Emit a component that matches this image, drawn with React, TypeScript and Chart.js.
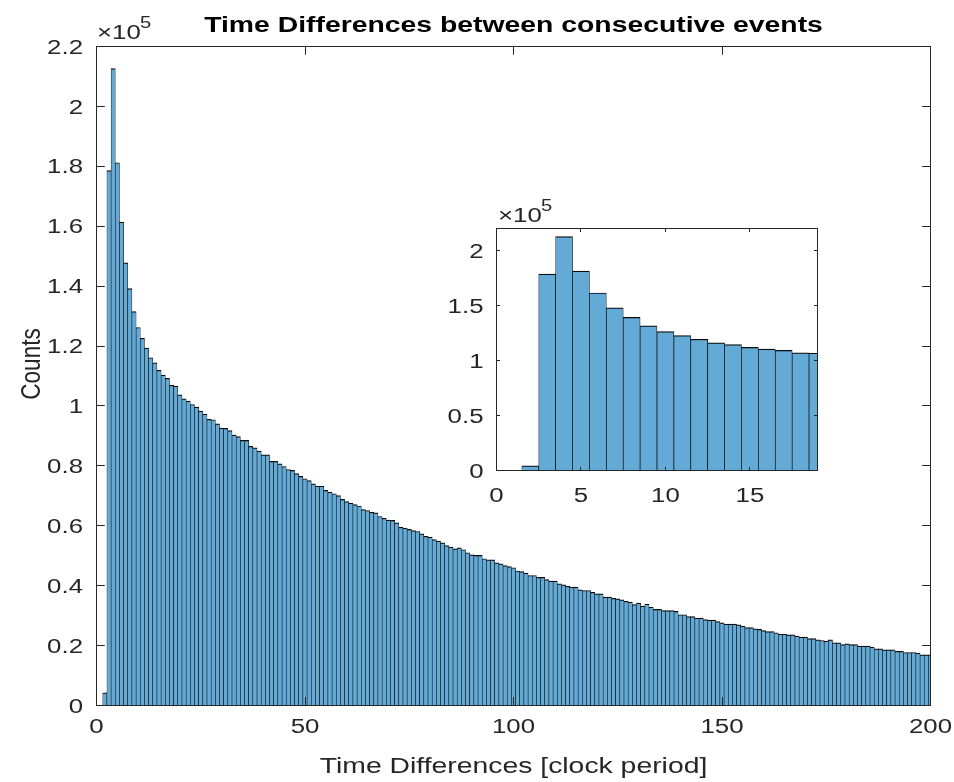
import React, { useEffect, useRef } from "react";
import { Chart, registerables } from "chart.js";

Chart.register(...registerables);

// ---- DATA ----
// histogram counts for bins centred on 1, 2, ..., 200 (clock periods)
const counts: number[] = [
  0, 4200, 178600, 212600, 181200, 161400, 147800, 139200, 131500, 126200,
  122600, 119300, 116100, 114400, 111900, 110300, 109200, 106900, 106600, 103700,
  102400, 101600, 100500, 99600, 98300, 97300, 95500, 95400, 94000, 92600,
  92500, 91800, 90300, 89800, 88500, 88500, 86500, 86000, 84900, 83700,
  83700, 81500, 81500, 80700, 79800, 78800, 78500, 77400, 76500, 75700,
  75100, 74000, 73200, 73200, 71800, 71200, 70700, 70100, 68800, 68100,
  67600, 67100, 66600, 65400, 65100, 64500, 64300, 63100, 62500, 61900,
  61800, 61000, 59500, 59200, 58800, 58400, 58100, 57300, 56500, 56200,
  55400, 54900, 54300, 53400, 52900, 52300, 52600, 52000, 51000, 50300,
  50100, 50100, 49000, 48600, 48600, 47600, 47300, 46700, 46400, 46000,
  44900, 44700, 44200, 43400, 43400, 42800, 42800, 42000, 41500, 41500,
  40600, 40300, 39800, 39500, 39500, 38600, 38400, 38400, 37800, 37300,
  37300, 36200, 36200, 35800, 35600, 35300, 34800, 34500, 33700, 34200,
  33200, 33800, 32800, 32100, 32100, 31700, 31700, 31700, 31400, 30300,
  30300, 29700, 29700, 29200, 29200, 28700, 28500, 28500, 28000, 27600,
  27200, 27200, 27200, 26900, 26500, 26000, 26000, 25600, 25400, 25000,
  24700, 24700, 24300, 23800, 23800, 23600, 23600, 23200, 22800, 22800,
  22300, 22300, 21900, 21700, 21500, 21900, 20900, 20900, 20300, 20600,
  20300, 20300, 19800, 19800, 19800, 19500, 18900, 18900, 18600, 18600,
  18600, 18100, 18100, 17700, 17700, 17700, 17500, 16900, 16900, 16900,
];
const binCenters: number[] = counts.map((_, i) => i + 1);

const mainXTicks: number[] = [0, 50, 100, 150, 200];
const mainXTickLabels: string[] = ["0", "50", "100", "150", "200"];
const mainYTicks: number[] = [0, 0.2, 0.4, 0.6, 0.8, 1, 1.2, 1.4, 1.6, 1.8, 2, 2.2];
const mainYTickLabels: string[] = ["0", "0.2", "0.4", "0.6", "0.8", "1", "1.2", "1.4", "1.6", "1.8", "2", "2.2"];

const insetXTicks: number[] = [0, 5, 10, 15];
const insetXTickLabels: string[] = ["0", "5", "10", "15"];
const insetYTicks: number[] = [0, 0.5, 1, 1.5, 2];
const insetYTickLabels: string[] = ["0", "0.5", "1", "1.5", "2"];
const insetBins = 20;

const TITLE = "Time Differences between consecutive events";
const X_LABEL = "Time Differences [clock period]";
const Y_LABEL = "Counts";
const EXPONENT_BASE = "\u00d710";
const EXPONENT = "5";
const SCALE = 1e5;

// ---- STYLE ----
const FONT = '"Liberation Sans", Arial, Helvetica, sans-serif';
const SX = 1.26;
const TXT = "#262626";
const BAR = "#64AAD7";
const EDGE = "#0a0a0a";

function drawText(
  ctx: CanvasRenderingContext2D,
  text: string,
  x: number,
  y: number,
  size: number,
  opts: { bold?: boolean; align?: CanvasTextAlign; baseline?: CanvasTextBaseline; color?: string; rotate?: number } = {}
) {
  ctx.save();
  ctx.font = `${opts.bold ? "bold " : ""}${size}px ${FONT}`;
  ctx.fillStyle = opts.color || TXT;
  ctx.textAlign = opts.align || "center";
  ctx.textBaseline = opts.baseline || "alphabetic";
  ctx.translate(x, y);
  if (opts.rotate) {
    ctx.rotate(opts.rotate);
    ctx.scale(1, SX);
  } else {
    ctx.scale(SX, 1);
  }
  ctx.fillText(text, 0, 0);
  ctx.restore();
}

type AxesCfg = {
  id: string;
  xTicks: number[];
  xLabels: string[];
  yTicks: number[];
  yLabels: string[];
  tickLen: number;
  fontSize: number;
  xLabelY: number;
  yLabelGap: number;
  expX: number;
  expY: number;
  supDX: number;
  supDY: number;
  bg: boolean;
  extra?: (ctx: CanvasRenderingContext2D, chart: any) => void;
};

function makeAxesPlugin(cfg: AxesCfg) {
  return {
    id: cfg.id,
    beforeDatasetsDraw(chart: any) {
      if (!cfg.bg) return;
      const ctx = chart.ctx as CanvasRenderingContext2D;
      const a = chart.chartArea;
      ctx.save();
      ctx.fillStyle = "#ffffff";
      ctx.fillRect(a.left, a.top, a.right - a.left, a.bottom - a.top);
      ctx.restore();
    },
    afterDatasetsDraw(chart: any) {
      const ctx = chart.ctx as CanvasRenderingContext2D;
      const a = chart.chartArea;
      const xs = chart.scales.x;
      const ys = chart.scales.y;
      const snap = (v: number) => Math.round(v - 0.5) + 0.5;
      ctx.save();
      ctx.strokeStyle = TXT;
      ctx.lineWidth = 1;
      ctx.beginPath();
      cfg.xTicks.forEach((v) => {
        const px = snap(xs.getPixelForValue(v));
        ctx.moveTo(px, a.bottom);
        ctx.lineTo(px, a.bottom - cfg.tickLen);
        ctx.moveTo(px, a.top);
        ctx.lineTo(px, a.top + cfg.tickLen);
      });
      cfg.yTicks.forEach((v) => {
        const py = snap(ys.getPixelForValue(v * SCALE));
        ctx.moveTo(a.left, py);
        ctx.lineTo(a.left + cfg.tickLen, py);
        ctx.moveTo(a.right, py);
        ctx.lineTo(a.right - cfg.tickLen, py);
      });
      ctx.stroke();
      ctx.strokeRect(a.left, a.top, a.right - a.left, a.bottom - a.top);
      ctx.restore();

      cfg.xTicks.forEach((v, i) => {
        const px = xs.getPixelForValue(v);
        drawText(ctx, cfg.xLabels[i], px, cfg.xLabelY, cfg.fontSize, { baseline: "middle" });
      });
      cfg.yTicks.forEach((v, i) => {
        const py = ys.getPixelForValue(v * SCALE);
        drawText(ctx, cfg.yLabels[i], a.left - cfg.yLabelGap, py + 1.5, cfg.fontSize, {
          baseline: "middle",
          align: "right",
        });
      });
      drawText(ctx, EXPONENT_BASE, cfg.expX, cfg.expY, cfg.fontSize, { align: "left" });
      drawText(ctx, EXPONENT, cfg.expX + cfg.supDX, cfg.expY + cfg.supDY, 16, { align: "left" });
      if (cfg.extra) cfg.extra(ctx, chart);
    },
  };
}

const mainPlugin = makeAxesPlugin({
  id: "mainAxes",
  xTicks: mainXTicks,
  xLabels: mainXTickLabels,
  yTicks: mainYTicks,
  yLabels: mainYTickLabels,
  tickLen: 8.3,
  fontSize: 20.5,
  xLabelY: 727,
  yLabelGap: 13.5,
  expX: 97,
  expY: 39,
  supDX: 43,
  supDY: -11,
  bg: false,
  extra: (ctx, chart) => {
    const a = chart.chartArea;
    const cx = (a.left + a.right) / 2;
    drawText(ctx, TITLE, cx, 32, 22.5, { bold: true, color: "#000000" });
    drawText(ctx, X_LABEL, cx, 773, 22.5);
    drawText(ctx, Y_LABEL, 40, 364, 22.5, { rotate: -Math.PI / 2 });
  },
});

const insetPlugin = makeAxesPlugin({
  id: "insetAxes",
  xTicks: insetXTicks,
  xLabels: insetXTickLabels,
  yTicks: insetYTicks,
  yLabels: insetYTickLabels,
  tickLen: 3.5,
  fontSize: 20.5,
  xLabelY: 496,
  yLabelGap: 13,
  expX: 498,
  expY: 221.5,
  supDX: 43,
  supDY: -10.5,
  bg: true,
});

function barDataset(n: number, side: number) {
  return {
    data: binCenters.slice(0, n).map((x, i) => ({ x, y: counts[i] })),
    backgroundColor: BAR,
    borderColor: EDGE,
    borderWidth: { top: 1.2, left: side, right: side, bottom: 0 },
    borderSkipped: "start",
    barPercentage: 1,
    categoryPercentage: 1,
    clip: 0,
  };
}

export default function App() {
  const mainRef = useRef<HTMLCanvasElement | null>(null);
  const insetRef = useRef<HTMLCanvasElement | null>(null);

  useEffect(() => {
    if (!mainRef.current || !insetRef.current) return;
    const main = new Chart(mainRef.current, {
      type: "bar",
      data: { datasets: [barDataset(counts.length, 0.6) as any] },
      options: {
        animation: false,
        responsive: false,
        devicePixelRatio: 1,
        events: [],
        layout: { padding: { left: 96.5, top: 46.5, right: 23.5, bottom: 76.5 } },
        scales: {
          x: { type: "linear", display: false, min: 0, max: 200, offset: false },
          y: { type: "linear", display: false, min: 0, max: 220000 },
        },
        plugins: { legend: { display: false }, tooltip: { enabled: false }, title: { display: false } },
      },
      plugins: [mainPlugin as any],
    });
    const inset = new Chart(insetRef.current, {
      type: "bar",
      data: { datasets: [barDataset(insetBins, 0.7) as any] },
      options: {
        animation: false,
        responsive: false,
        devicePixelRatio: 1,
        events: [],
        layout: { padding: { left: 496.5, top: 228.5, right: 136.5, bottom: 311.5 } },
        scales: {
          x: { type: "linear", display: false, min: 0, max: 19, offset: false },
          y: { type: "linear", display: false, min: 0, max: 220000 },
        },
        plugins: { legend: { display: false }, tooltip: { enabled: false }, title: { display: false } },
      },
      plugins: [insetPlugin as any],
    });
    return () => {
      main.destroy();
      inset.destroy();
    };
  }, []);

  return (
    <div style={{ position: "fixed", left: 0, top: 0, width: 954, height: 782, background: "#ffffff" }}>
      <canvas ref={mainRef} width={954} height={782} style={{ position: "absolute", left: 0, top: 0 }} />
      <canvas ref={insetRef} width={954} height={782} style={{ position: "absolute", left: 0, top: 0 }} />
    </div>
  );
}
